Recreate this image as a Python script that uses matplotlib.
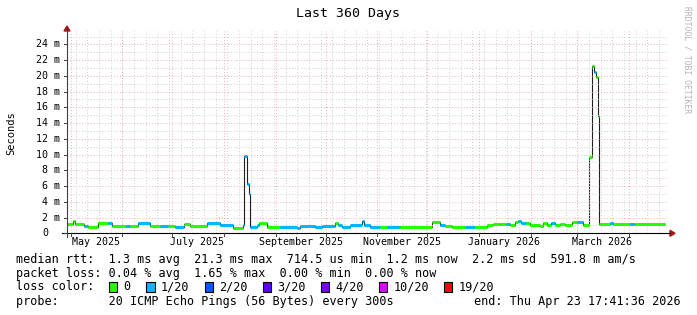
import datetime as dt
import matplotlib
matplotlib.use("Agg")
import matplotlib.pyplot as plt
from matplotlib.patches import Rectangle, Polygon
from matplotlib.lines import Line2D

# --- chart data -------------------------------------------------------------
END = dt.datetime(2026, 4, 23, 17, 41, 36)
SPAN_DAYS = 360
START = END - dt.timedelta(days=SPAN_DAYS)

# median rtt as steps: start day (from START), value in ms, loss colour index
seg_day = [0.0, 3.6, 4.8, 10.2, 12.6, 18.6, 24.6, 27.0, 35.4, 37.8, 42.6, 49.8,
           55.8, 60.6, 64.8, 70.2, 73.8, 84.0, 91.8, 99.6, 105.6, 106.2, 108.0,
           108.9, 109.8, 114.0, 115.2, 120.0, 127.8, 138.0, 139.8, 148.8, 153.0,
           160.8, 162.6, 165.0, 169.8, 177.0, 178.2, 181.8, 187.8, 192.0, 199.8,
           210.6, 217.8, 219.0, 223.8, 226.8, 231.0, 238.8, 244.8, 252.0, 255.6,
           259.8, 263.4, 265.8, 268.8, 270.6, 272.4, 275.4, 277.8, 283.8, 285.6,
           288.0, 290.4, 292.8, 295.8, 298.8, 303.0, 306.0, 309.6, 312.0, 313.2,
           314.8, 316.2, 317.2, 318.8, 319.2, 325.8, 327.6, 337.2, 340.8]
seg_ms = [1.2, 1.5, 1.2, 0.95, 0.85, 1.25, 1.3, 0.95, 0.9, 0.9, 1.3, 0.95,
          0.9, 0.9, 0.85, 1.2, 0.9, 1.3, 1.05, 0.7, 1.0, 9.8, 6.2,
          5.0, 0.75, 1.0, 1.3, 0.8, 0.75, 0.7, 0.95, 0.8, 0.95,
          1.3, 1.0, 0.75, 1.1, 1.5, 1.0, 0.85, 0.85, 0.8, 0.75,
          0.85, 0.75, 1.4, 1.1, 0.95, 0.8, 0.75, 0.8, 1.0, 1.2,
          1.15, 1.2, 1.0, 1.4, 1.6, 1.35, 1.3, 1.0, 0.9, 1.3,
          1.1, 1.3, 1.0, 1.2, 1.0, 1.4, 1.45, 1.0, 1.1, 9.75,
          21.3, 20.5, 19.9, 14.9, 1.2, 1.25, 1.2, 1.2, 1.2]
seg_loss = [0, 0, 0, 1, 0, 0, 1, 0, 1, 0, 1, 0,
            1, 0, 1, 0, 0, 1, 1, 0, 1, 1, 1,
            1, 1, 1, 0, 0, 1, 1, 1, 1, 1,
            0, 1, 1, 1, 1, 1, 1, 0, 1, 0,
            0, 0, 0, 1, 0, 0, 1, 0, 0, 0,
            0, 1, 0, 0, 1, 1, 0, 0, 0, 0,
            0, 1, 0, 0, 0, 0, 1, 0, 0, 0,
            0, 1, 0, 0, 0, 1, 0, 1, 0]
last_day = 358.8

loss_labels = ["0", "1/20", "2/20", "3/20", "4/20", "10/20", "19/20"]
loss_colors = ["#26ff00", "#00b8ff", "#0059ff", "#5e00ff", "#7e00ff", "#dd00ff", "#ff0000"]

rtt_stats = ["1.3 ms avg", "21.3 ms max", "714.5 us min", "1.2 ms now", "2.2 ms sd", "591.8 m am/s"]
loss_stats = ["0.04 % avg", "1.65 % max", "0.00 % min", "0.00 % now"]
probe_text = "20 ICMP Echo Pings (56 Bytes) every 300s"
end_text = "end: Thu Apr 23 17:41:36 2026"
y_ticks_ms = list(range(0, 25, 2))

# --- layout (pixels) --------------------------------------------------------
W, H = 697, 315
X0, X1 = 67, 667      # plot area left/right
Y0, YT = 233.3, 31    # plot area bottom/top
YMAX = 25.7
MONO = "DejaVu Sans Mono"
GRID = "#cfcfcf"
MGRID = "#eab3b3"
ARROW = "#a01818"

fig = plt.figure(figsize=(W / 100, H / 100), dpi=100)
fig.patch.set_facecolor("white")


def fx(x):
    return x / W


def fy(y):
    return 1 - y / H


ax = fig.add_axes([fx(X0), fy(Y0), (X1 - X0) / W, (Y0 - YT) / H])
ax.set_xlim(0, SPAN_DAYS)
ax.set_ylim(0, YMAX)
ax.axis("off")


def day_of(t):
    return (t - START).total_seconds() / 86400


# month starts / weekly grid
months = []
y, m = START.year, START.month + 1
while True:
    if m > 12:
        y, m = y + 1, 1
    t = dt.datetime(y, m, 1)
    if t > END:
        break
    months.append(t)
    m += 1

week = dt.datetime(2025, 5, 4)
weeks = []
while week < END:
    weeks.append(day_of(week))
    week += dt.timedelta(days=7)

dots = (0, (1, 2))
for d in weeks:
    ax.axvline(d, color=GRID, lw=0.7, ls=dots)
for v in range(1, 26, 2):
    ax.axhline(v, color=GRID, lw=0.7, ls=dots)
for t in months:
    ax.axvline(day_of(t), color=MGRID, lw=0.7, ls=dots)
for v in y_ticks_ms[1:]:
    ax.axhline(v, color=MGRID, lw=0.7, ls=dots)

# median line: thin dark step line, loss coloured horizontal pieces on top
edges = seg_day + [last_day]
ax.stairs(seg_ms, edges, baseline=None, color="#202020", lw=0.8)
ax.hlines(seg_ms, seg_day, edges[1:], colors=[loss_colors[i] for i in seg_loss],
          lw=2.2, capstyle="butt")

# axes lines with arrows
fig.add_artist(Line2D([fx(X0 - 5), fx(670)], [fy(Y0), fy(Y0)], color="black", lw=0.8))
fig.add_artist(Line2D([fx(X0), fx(X0)], [fy(Y0 + 4), fy(30)], color="#404040", lw=0.8))
fig.add_artist(Polygon([[fx(670), fy(Y0 - 3)], [fx(675), fy(Y0)], [fx(670), fy(Y0 + 3)]],
                       closed=True, color=ARROW, transform=fig.transFigure))
fig.add_artist(Polygon([[fx(X0 - 3), fy(31)], [fx(X0), fy(26)], [fx(X0 + 3), fy(31)]],
                       closed=True, color=ARROW, transform=fig.transFigure))

# y tick labels and marks
for v in y_ticks_ms:
    yp = Y0 - v / YMAX * (Y0 - YT)
    fig.add_artist(Line2D([fx(X0 - 3), fx(X0)], [fy(yp), fy(yp)], color="#404040", lw=0.7))
    if v == 0:
        fig.text(fx(48), fy(yp), "0", family=MONO, fontsize=7.2, ha="right", va="center")
    else:
        fig.text(fx(60), fy(yp), f"{v} m", family=MONO, fontsize=7.2, ha="right", va="center")

# x labels every two months, centred half a month after the start
for t in months:
    xp = X0 + day_of(t) / SPAN_DAYS * (X1 - X0)
    fig.add_artist(Line2D([fx(xp), fx(xp)], [fy(Y0), fy(Y0 + 3)], color="#404040", lw=0.7))
    if t.month % 2 == 1:
        xc = X0 + (day_of(t) + 15) / SPAN_DAYS * (X1 - X0)
        fig.text(fx(xc), fy(242), t.strftime("%B %Y"), family=MONO, fontsize=7.2,
                 ha="center", va="center")

fig.text(fx(348), fy(14), "Last 360 Days", family=MONO, fontsize=9.5, ha="center", va="center")
fig.text(fx(11), fy(133), "Seconds", family=MONO, fontsize=7.5, rotation=90,
         ha="center", va="center")
fig.text(fx(687), fy(60), "RRDTOOL / TOBI OETIKER", family=MONO, fontsize=5.8,
         rotation=270, color="#b4b4b4", ha="center", va="center")

# legend
LS = 8.5
row_y = [259, 273, 287, 301]
fig.text(fx(16), fy(row_y[0]), "median rtt:  " + "  ".join(rtt_stats),
         family=MONO, fontsize=LS, va="center")
fig.text(fx(16), fy(row_y[1]), "packet loss: " + "  ".join(loss_stats),
         family=MONO, fontsize=LS, va="center")
fig.text(fx(16), fy(row_y[2]), "loss color:", family=MONO, fontsize=LS, va="center")
for x, lab, c in zip([108.5, 146, 204.5, 262.5, 320.5, 378.6, 444], loss_labels, loss_colors):
    fig.add_artist(Rectangle((fx(x), fy(row_y[2] + 5)), 8.5 / W, 10 / H, facecolor=c,
                             edgecolor="black", lw=0.8, transform=fig.transFigure))
    fig.text(fx(x + 15), fy(row_y[2]), lab, family=MONO, fontsize=LS, va="center")
fig.text(fx(16), fy(row_y[3]), "probe:       " + probe_text, family=MONO, fontsize=LS,
         va="center")
fig.text(fx(681), fy(row_y[3]), end_text, family=MONO, fontsize=LS, ha="right", va="center")

fig.savefig("out.png", dpi=100, facecolor="white")
